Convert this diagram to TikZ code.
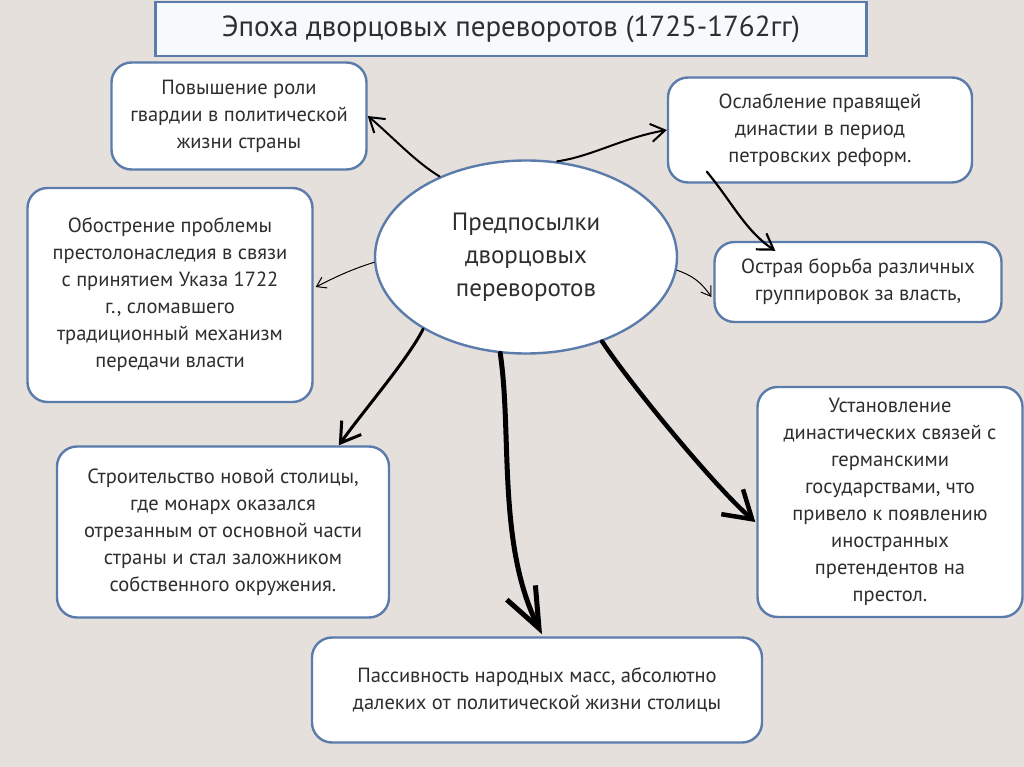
\documentclass[tikz,border=0pt]{standalone}
\usepackage{fontspec}
\setmainfont{PT Sans}
\usepackage{tikz}
\usetikzlibrary{arrows.meta,calc,shapes.geometric}
\definecolor{bgcol}{HTML}{E6E0DD}
\definecolor{boxblue}{HTML}{5B7BAA}
\definecolor{txtgray}{HTML}{2E2E2E}
\definecolor{titlefill}{HTML}{F6FAFC}

\begin{document}
\begin{tikzpicture}[x=1pt,y=-1pt,>={Straight Barb[length=4pt 5,width=6pt 6]},
  box/.style={draw=boxblue,line width=2.4pt,rounded corners=20pt,fill=white,align=center,
    text=txtgray,inner sep=0pt,font=\fontsize{20.5}{27}\selectfont},
  arr/.style={->,line width=#1,line cap=round,black}]
\fill[bgcol] (0,0) rectangle (1024,767);
\useasboundingbox (0,0) rectangle (1024,767);
\node[box,rounded corners=0pt,fill=titlefill,minimum width=711pt,minimum height=54pt,font=\fontsize{29}{30}\selectfont] (title) at (511,29) {Эпоха дворцовых переворотов (1725-1762гг)};
\node[box,minimum width=255pt,minimum height=107pt] (guard) at (239,116) {Повышение роли\\гвардии в политической\\жизни страны};
\node[box,minimum width=304pt,minimum height=105pt] (dynasty) at (820,130) {Ослабление правящей\\династии в период\\петровских реформ.};
\node[box,minimum width=285pt,minimum height=214pt] (succession) at (170,295) {Обострение проблемы\\престолонаследия в связи\\с принятием Указа 1722\\г., сломавшего\\традиционный механизм\\передачи власти};
\node[box,minimum width=287pt,minimum height=80pt] (struggle) at (858,282) {Острая борьба различных\\группировок за власть,};
\node[box,minimum width=332pt,minimum height=171pt] (capital) at (223,532) {Строительство новой столицы,\\где монарх оказался\\отрезанным от основной части\\страны и стал заложником\\собственного окружения.};
\node[box,minimum width=265pt,minimum height=230pt] (german) at (890,502) {Установление\\династических связей с\\германскими\\государствами, что\\привело к появлению\\иностранных\\претендентов на\\престол.};
\node[box,minimum width=450pt,minimum height=105pt] (masses) at (537,690) {Пассивность народных масс, абсолютно\\далеких от политической жизни столицы};
\node[box,ellipse,minimum width=302pt,minimum height=193pt,font=\fontsize{25}{33}\selectfont] (causes) at (526,257) {Предпосылки\\дворцовых\\переворотов};
\draw[arr=2pt] (causes.137) .. controls +(-25,-15) and +(22,18) .. (guard.east);
\draw[arr=2pt] (causes.72) .. controls +(35,-5) and +(-45,8) .. (dynasty.west);
\draw[arr=2.2pt] ($(dynasty.south west)+(40,-12)$) .. controls +(25,30) and +(-30,-20) .. ($(struggle.north west)+(62,10)$);
\draw[arr=1pt] (causes.-5) .. controls +(15,5) and +(-10,-15) .. ($(struggle.west)+(-2,15)$);
\draw[arr=1pt] (causes.182) .. controls +(-25,8) and +(20,-10) .. ($(succession.east)+(2,-8)$);
\draw[arr=3pt] (causes.215) .. controls +(-15,30) and +(25,-35) .. ($(capital.north west)+(283,0)$);
\draw[arr=5pt,-{Straight Barb[length=40pt,width=32pt]}] (causes.255) .. controls +(12,80) and +(-45,-90) .. ($(masses.north)+(5,-2)$);
\draw[arr=4.5pt] (causes.-48) .. controls +(30,45) and +(-40,-35) .. ($(german.west)+(-1,20)$);
\end{tikzpicture}
\end{document}
